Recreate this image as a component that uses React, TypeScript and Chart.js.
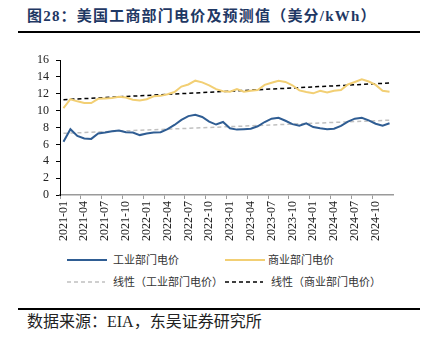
import React, { useEffect, useRef } from "react";
import { Chart, registerables } from "chart.js";

Chart.register(...registerables);

const months: string[] = [];
for (let y = 2021; y <= 2024; y++) {
  for (let m = 1; m <= 12; m++) months.push(`${y}-${String(m).padStart(2, "0")}`);
}

const industrial = [
  6.3, 7.8, 7.0, 6.7, 6.65, 7.3, 7.4, 7.55, 7.65, 7.45,
  7.4, 7.1, 7.3, 7.4, 7.45, 7.8, 8.3, 8.9, 9.35, 9.5,
  9.25, 8.7, 8.35, 8.65, 7.9, 7.75, 7.8, 7.85, 8.15, 8.65,
  9.05, 9.15, 8.8, 8.4, 8.2, 8.5, 8.05, 7.9, 7.8, 7.85,
  8.2, 8.7, 9.05, 9.15, 8.85, 8.45, 8.2, 8.5,
];

const commercial = [
  10.3, 11.35, 11.1, 10.9, 10.9, 11.4, 11.45, 11.5, 11.65, 11.55,
  11.3, 11.2, 11.35, 11.7, 11.75, 11.95, 12.2, 12.85, 13.1, 13.55,
  13.35, 13.0, 12.55, 12.3, 12.25, 12.55, 12.25, 12.35, 12.45, 13.05,
  13.3, 13.55, 13.4, 13.0, 12.4, 12.2, 12.05, 12.35, 12.15, 12.35,
  12.45, 13.1, 13.4, 13.7, 13.45, 13.05, 12.35, 12.25,
];

const seriesNames = ["工业部门电价", "商业部门电价", "线性（工业部门电价）", "线性（商业部门电价）"];
const yMin = 0;
const yMax = 16;
const yStep = 2;

function linearTrend(ys: number[]): number[] {
  const n = ys.length;
  const mx = (n - 1) / 2;
  const my = ys.reduce((a, b) => a + b, 0) / n;
  let num = 0, den = 0;
  ys.forEach((y, i) => { num += (i - mx) * (y - my); den += (i - mx) * (i - mx); });
  const s = num / den;
  return ys.map((_, i) => my + s * (i - mx));
}

const BLUE = "#2f5d93";
const YELLOW = "#f2cf74";
const GRAY = "#c0c0c0";

export default function App() {
  const ref = useRef<HTMLCanvasElement>(null);
  useEffect(() => {
    if (!ref.current) return;
    const chart = new Chart(ref.current, {
      type: "line",
      data: {
        labels: months,
        datasets: [
          { label: seriesNames[0], data: industrial, borderColor: BLUE, borderWidth: 2, pointRadius: 0, tension: 0 },
          { label: seriesNames[1], data: commercial, borderColor: YELLOW, borderWidth: 2, pointRadius: 0, tension: 0 },
          { label: seriesNames[2], data: linearTrend(industrial), borderColor: GRAY, borderWidth: 1.5, borderDash: [4, 3], pointRadius: 0 },
          { label: seriesNames[3], data: linearTrend(commercial), borderColor: "#000", borderWidth: 1.5, borderDash: [4, 3], pointRadius: 0 },
        ],
      },
      options: {
        responsive: false,
        animation: false,
        layout: { padding: { top: 15, right: 30, left: 0, bottom: 0 } },
        plugins: { legend: { display: false }, tooltip: { enabled: false } },
        scales: {
          x: {
            type: "category",
            offset: true,
            afterFit: (s: any) => { s.height = 55; },
            border: { color: "#9a9a9a", width: 1.5 },
            grid: {
              offset: true,
              drawOnChartArea: false,
              drawTicks: true,
              tickLength: 4,
              color: (c: any) => (c.index % 3 === 0 ? "#9a9a9a" : "rgba(0,0,0,0)"),
            },
            ticks: {
              autoSkip: false,
              minRotation: 90,
              maxRotation: 90,
              padding: 2,
              color: "#222",
              font: { family: "Liberation Serif", size: 12 },
              callback: (_v: any, i: number) => (i % 3 === 0 ? months[i] : ""),
            },
          },
          y: {
            min: yMin,
            max: yMax,
            afterFit: (s: any) => { s.width = 60; },
            border: { color: "#000", width: 1 },
            grid: { drawOnChartArea: false, drawTicks: true, tickLength: 4, color: "#000" },
            ticks: {
              stepSize: yStep,
              autoSkip: false,
              padding: 7,
              color: "#222",
              font: { family: "Liberation Serif", size: 12 },
            },
          },
        },
      },
    });
    return () => chart.destroy();
  }, []);

  const cjk = '"Liberation Serif", "Noto Sans CJK SC", serif';
  const legendText: React.CSSProperties = { position: "absolute", fontFamily: cjk, fontSize: 11, color: "#333", lineHeight: "14px", whiteSpace: "nowrap" };

  const line = (x: number, y: number, w: number, color: string, dash?: string, width = 2) => (
    <svg style={{ position: "absolute", left: x, top: y - 3, overflow: "visible" }} width={w} height={6}>
      <line x1={0} y1={3} x2={w} y2={3} stroke={color} strokeWidth={width} strokeDasharray={dash} />
    </svg>
  );

  return (
    <div style={{ position: "absolute", left: 0, top: 0, width: 423, height: 351, background: "#fff", overflow: "hidden" }}>
      <div style={{ position: "absolute", left: 27, top: 6, fontFamily: cjk, fontSize: 15, fontWeight: "bold", color: "#1f3864", whiteSpace: "nowrap", lineHeight: "20px", letterSpacing: 1.2 }}>
        图28：美国工商部门电价及预测值（美分/kWh）
      </div>
      <div style={{ position: "absolute", left: 18, top: 31, width: 402, height: 2, background: "#000" }} />
      <canvas ref={ref} width={423} height={205} style={{ position: "absolute", left: 0, top: 45, width: 423, height: 205 }} />
      {line(67, 260, 40, BLUE)}
      <div style={{ ...legendText, left: 113, top: 253 }}>{seriesNames[0]}</div>
      {line(225, 260, 40, YELLOW)}
      <div style={{ ...legendText, left: 268, top: 253 }}>{seriesNames[1]}</div>
      {line(67, 282, 38, GRAY, "4 3", 1.5)}
      <div style={{ ...legendText, left: 113, top: 275 }}>{seriesNames[2]}</div>
      {line(225, 282, 38, "#000", "4 3", 1.5)}
      <div style={{ ...legendText, left: 271, top: 275 }}>{seriesNames[3]}</div>
      <div style={{ position: "absolute", left: 18, top: 308, width: 402, height: 1.5, background: "#000" }} />
      <div style={{ position: "absolute", left: 27, top: 312, fontFamily: cjk, fontSize: 16, color: "#222", whiteSpace: "nowrap", lineHeight: "20px" }}>
        数据来源：EIA，东吴证券研究所
      </div>
    </div>
  );
}
